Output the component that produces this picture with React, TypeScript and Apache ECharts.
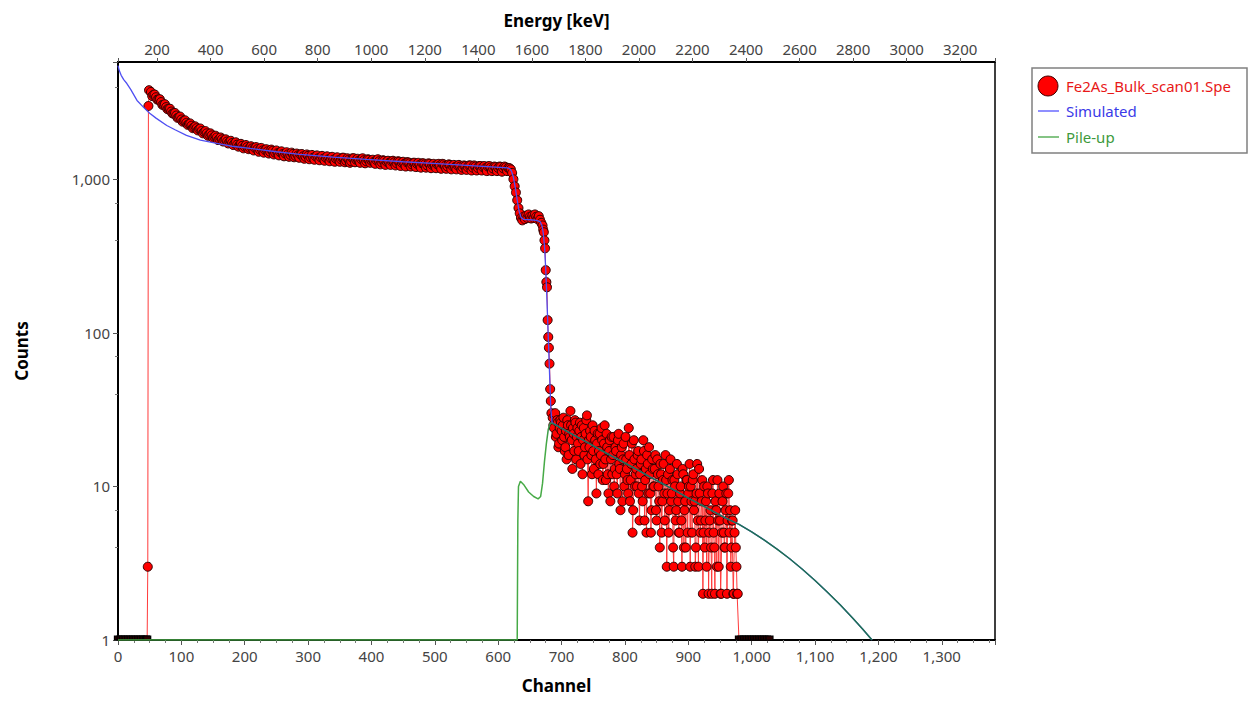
import React, { useEffect, useRef } from "react";
import * as echarts from "echarts";

// ---------- Measured spectrum (Fe2As_Bulk_scan01.Spe) ----------
// zero-count channels at the start of the spectrum
const headZeroChannels = [0, 4, 8, 12, 16, 20, 24, 28, 32, 36, 40, 44, 46];
// the steep rise at the low-energy cutoff
const riseChannels = [47, 48, 49];
const riseCounts = [3, 3000, 3800];
// plateau, channels 52..620 every 4 channels
const bandStart = 52;
const bandStep = 4;
const bandCounts = [
  3700, 3550, 3420, 3300, 3180, 3050, 2950, 2870, 2760, 2680,
  2600, 2530, 2450, 2400, 2330, 2290, 2230, 2180, 2150, 2120,
  2060, 2030, 1990, 1950, 1930, 1890, 1870, 1830, 1820, 1790,
  1760, 1750, 1720, 1710, 1680, 1670, 1650, 1630, 1620, 1600,
  1590, 1600, 1570, 1560, 1540, 1550, 1520, 1510, 1530, 1490,
  1480, 1500, 1460, 1470, 1450, 1440, 1460, 1420, 1430, 1450,
  1410, 1400, 1420, 1390, 1380, 1410, 1370, 1390, 1360, 1380,
  1350, 1370, 1340, 1360, 1330, 1350, 1380, 1320, 1340, 1310,
  1370, 1340, 1320, 1350, 1330, 1310, 1340, 1320, 1300, 1330,
  1310, 1290, 1320, 1300, 1280, 1310, 1290, 1270, 1300, 1280,
  1260, 1290, 1270, 1250, 1280, 1260, 1240, 1270, 1250, 1230,
  1260, 1240, 1220, 1250, 1230, 1260, 1220, 1210, 1240, 1220,
  1200, 1230, 1210, 1190, 1220, 1200, 1230, 1190, 1210, 1185,
  1220, 1200, 1180, 1210, 1190, 1175, 1200, 1185, 1205, 1180,
  1195, 1185, 1160,
];
// plateau, the in-between channels 54..618 every 4 channels
const bandStartB = 54;
const bandCountsB = [
  3480, 3560, 3300, 3320, 3050, 3080, 2860, 2880, 2680, 2700,
  2510, 2560, 2370, 2420, 2260, 2310, 2150, 2210, 2080, 2140,
  1990, 2060, 1920, 1990, 1860, 1920, 1800, 1870, 1760, 1820,
  1710, 1780, 1670, 1740, 1630, 1700, 1590, 1670, 1570, 1640,
  1540, 1620, 1510, 1600, 1490, 1570, 1470, 1560, 1450, 1540,
  1430, 1520, 1410, 1500, 1400, 1490, 1390, 1470, 1380, 1460,
  1360, 1450, 1350, 1440, 1340, 1430, 1330, 1420, 1320, 1410,
  1310, 1400, 1300, 1390, 1300, 1380, 1290, 1370, 1280, 1370,
  1290, 1360, 1280, 1370, 1270, 1350, 1280, 1340, 1260, 1350,
  1250, 1330, 1240, 1320, 1240, 1320, 1230, 1310, 1220, 1300,
  1210, 1290, 1210, 1280, 1200, 1280, 1190, 1270, 1190, 1270,
  1180, 1260, 1180, 1260, 1170, 1250, 1170, 1250, 1160, 1240,
  1160, 1240, 1150, 1230, 1150, 1230, 1140, 1230, 1140, 1220,
  1140, 1220, 1130, 1220, 1130, 1210, 1130, 1210, 1120, 1210,
  1130, 1180,
];
// edges (Fe / As steps)
const dropChannels = [
  622, 624, 626, 628, 630, 632, 634, 636, 638, 640, 642, 644, 646, 648, 650,
  652, 654, 656, 658, 660, 662, 664, 666, 668, 670, 671, 672, 673, 674, 675,
  676, 677, 678, 679, 680, 681, 682, 683, 684,
];
const dropCounts = [
  1100, 1000, 900, 820, 730, 650, 600, 560, 540, 570, 550, 580, 560, 590, 570,
  555, 580, 560, 590, 570, 550, 575, 545, 520, 500, 470, 452, 400, 355, 256,
  214, 198, 121, 94, 80, 63, 43, 36, 30,
];
// noisy tail, even channels 686..978
const tailStart = 686;
const tailCounts = [
  28, 24, 30, 22, 26, 19, 27, 23, 25, 21,
  18, 15, 25, 22, 31, 20, 24, 17, 26, 21,
  19, 23, 14, 25, 20, 16, 22, 29, 8, 18,
  21, 12, 17, 23, 15, 19, 12, 22, 16, 20,
  14, 25, 11, 18, 9, 20, 15, 12, 21, 13,
  17, 9, 22, 13, 16, 8, 19, 12, 15, 11,
  24, 8, 14, 5, 20, 10, 13, 16, 9, 12,
  15, 8, 17, 11, 5, 14, 18, 9, 7, 13,
  10, 16, 6, 12, 8, 14, 5, 11, 9, 16,
  3, 12, 7, 15, 9, 4, 11, 6, 14, 8,
  5, 10, 3, 12, 7, 4, 11, 9, 14, 10,
  5, 12, 8, 4, 14, 3, 9, 6, 11, 5,
  4, 8, 10, 2, 6, 4, 9, 5, 2, 7,
  11, 3, 6, 2, 8, 5, 4, 9, 6, 11,
  7, 4, 6, 2, 7, 3, 2,
];
// noisy tail, odd channels 687..977
const tailStartOdd = 687;
const tailCountsOdd = [
  25, 29, 21, 27, 18, 24, 26, 20, 28, 17,
  23, 27, 16, 21, 25, 13, 22, 27, 15, 24,
  17, 26, 21, 12, 24, 18, 27, 15, 20, 23,
  16, 25, 13, 20, 9, 22, 17, 14, 24, 11,
  19, 15, 22, 12, 17, 8, 21, 16, 10, 18,
  12, 20, 14, 7, 18, 15, 10, 21, 13, 9,
  16, 11, 19, 7, 15, 12, 10, 17, 6, 14,
  10, 20, 6, 13, 16, 9, 12, 5, 15, 10,
  13, 7, 15, 10, 4, 12, 8, 14, 6, 11,
  9, 5, 13, 8, 11, 3, 10, 7, 12, 5,
  9, 6, 13, 4, 8, 11, 5, 10, 3, 8,
  11, 7, 3, 9, 6, 13, 5, 8, 2, 10,
  6, 3, 9, 5, 7, 2, 11, 4, 8, 3,
  6, 9, 2, 5, 10, 4, 7, 2, 9, 5,
  3, 6, 2, 5, 4, 2,
];
// zero-count channels after the spectrum end
const endZeroChannels = [980, 984, 988, 992, 996, 1000, 1004, 1008, 1012, 1016, 1020, 1024, 1028];

// ---------- Simulated spectrum ----------
const simChannels = [
  0, 2, 5, 9, 14, 20, 30, 40, 50, 60, 77, 90, 108, 130, 156, 180, 208, 250,
  287, 340, 392, 450, 497, 550, 602, 615, 618, 621, 624, 627, 630, 633, 636,
  640, 650, 660, 666, 669, 671, 673, 675, 677, 679, 681, 683, 685,
];
const simCounts = [
  5500, 5100, 4750, 4450, 4200, 3850, 3260, 2950, 2690, 2500, 2240, 2100,
  1930, 1800, 1710, 1640, 1589, 1510, 1452, 1395, 1346, 1300, 1267, 1230,
  1195, 1185, 1170, 1130, 1030, 880, 730, 620, 565, 548, 545, 540, 530, 500,
  450, 370, 260, 160, 95, 55, 32, 26,
];

// ---------- Pile-up ----------
const pileChannels = [
  0, 630, 631, 632, 635, 640, 648, 656, 663, 667, 670, 673, 676, 679, 682, 685,
];
const pileCounts = [
  1, 1, 6, 10, 10.8, 10.3, 9.2, 8.6, 8.3, 8.6, 10.5, 14.5, 19, 23.5, 25.8, 25.8,
];

// model tail shared by simulated and pile-up (they coincide above channel 685)
const modelTailChannels = [
  700, 720, 740, 760, 780, 800, 820, 840, 860, 880, 900, 920, 940, 960, 980,
  1000, 1020, 1040, 1060, 1080, 1100, 1120, 1140, 1160, 1175, 1190,
];
const modelTailCounts = [
  23.9, 21.5, 19.4, 17.4, 15.7, 14.2, 12.8, 11.5, 10.4, 9.35, 8.4, 7.6, 6.85,
  6.2, 5.66, 5.06, 4.47, 3.91, 3.38, 2.89, 2.44, 2.04, 1.69, 1.38, 1.18, 1.0,
];

// ---------- Axes ----------
const channelMin = 0;
const channelMax = 1384;
const energyMin = 54;
const energyMax = 3330;
const countsMin = 1;
const countsMax = 5800;

const FONT = "Noto Sans";

function zeroPoint(ch: number) {
  return {
    value: [ch, 1],
    symbol: "rect",
    symbolSize: [7, 4],
    symbolOffset: [0, -2],
    itemStyle: { color: "#2a0000", borderColor: "#000" },
  };
}

function buildExperiment() {
  const out: any[] = [];
  headZeroChannels.forEach((c) => out.push(zeroPoint(c)));
  riseChannels.forEach((c, i) => out.push([c, riseCounts[i]]));
  bandCounts.forEach((v, i) => {
    out.push([bandStart + i * 4, v]);
    if (i < bandCountsB.length) out.push([bandStartB + i * 4, bandCountsB[i]]);
  });
  dropChannels.forEach((c, i) => out.push([c, dropCounts[i]]));
  tailCounts.forEach((v, i) => {
    out.push([tailStart + i * 2, v]);
    if (i < tailCountsOdd.length) out.push([tailStartOdd + i * 2, tailCountsOdd[i]]);
  });
  endZeroChannels.forEach((c) => out.push(zeroPoint(c)));
  return out;
}

function pairs(xs: number[], ys: number[]) {
  return xs.map((x, i) => [x, ys[i]]);
}

export default function App() {
  const ref = useRef<HTMLDivElement>(null);

  useEffect(() => {
    if (!ref.current) return;
    const chart = echarts.init(ref.current, undefined, { renderer: "svg" });

    const simData = pairs(simChannels, simCounts).concat(pairs(modelTailChannels, modelTailCounts));
    const pileData = pairs(pileChannels, pileCounts).concat(pairs(modelTailChannels, modelTailCounts));

    const isPow10 = (v: number) => {
      const l = Math.log10(v);
      return Math.abs(l - Math.round(l)) < 1e-6;
    };

    const pileColor = new echarts.graphic.LinearGradient(
      546, 0, 554, 0,
      [
        { offset: 0, color: "#46aa46" },
        { offset: 1, color: "#1f7250" },
      ],
      true
    );

    chart.setOption({
      animation: false,
      backgroundColor: "#fff",
      textStyle: { fontFamily: FONT },
      grid: {
        left: 118,
        right: 254,
        top: 62,
        bottom: 62,
        show: true,
        borderColor: "#000",
        borderWidth: 1.5,
        backgroundColor: "#fff",
      },
      xAxis: [
        {
          type: "value",
          position: "bottom",
          min: channelMin,
          max: channelMax,
          interval: 100,
          axisLine: { show: true, onZero: false, lineStyle: { color: "#000", width: 2 } },
          axisTick: { show: true, length: 5, lineStyle: { color: "#555" } },
          minorTick: { show: true, splitNumber: 4, length: 3, lineStyle: { color: "#777" } },
          splitLine: { show: false },
          axisLabel: {
            fontSize: 15,
            color: "#444",
            fontFamily: FONT,
            margin: 8,
            formatter: (v: number) => (v % 100 === 0 ? v.toLocaleString("en-US") : ""),
          },
          name: "Channel",
          nameLocation: "middle",
          nameGap: 37,
          nameTextStyle: { fontSize: 17, fontWeight: "bold", color: "#000", fontFamily: FONT },
        },
        {
          type: "value",
          position: "top",
          min: energyMin,
          max: energyMax,
          splitNumber: 16,
          minInterval: 200,
          maxInterval: 200,
          axisLine: { show: true, onZero: false, lineStyle: { color: "#000", width: 2 } },
          axisTick: { show: true, length: 4, lineStyle: { color: "#555" } },
          splitLine: { show: false },
          axisLabel: {
            fontSize: 15,
            color: "#444",
            fontFamily: FONT,
            margin: 6,
            formatter: (v: number) => (v % 200 === 0 ? String(v) : ""),
          },
          name: "Energy [keV]",
          nameLocation: "middle",
          nameGap: 33,
          nameTextStyle: { fontSize: 17, fontWeight: "bold", color: "#000", fontFamily: FONT },
        },
      ],
      yAxis: {
        type: "log",
        logBase: 10,
        min: countsMin,
        max: countsMax,
        axisLine: { show: true, onZero: false, lineStyle: { color: "#000", width: 2 } },
        axisTick: { show: true, length: 5, lineStyle: { color: "#555" } },
        minorTick: { show: true, splitNumber: 3, length: 3, lineStyle: { color: "#777" } },
        splitLine: { show: false },
        axisLabel: {
          fontSize: 15,
          color: "#444",
          fontFamily: FONT,
          margin: 8,
          formatter: (v: number) => (isPow10(v) ? Math.round(v).toLocaleString("en-US") : ""),
        },
        name: "Counts",
        nameLocation: "middle",
        nameRotate: 90,
        nameGap: 88,
        nameTextStyle: { fontSize: 17, fontWeight: "bold", color: "#000", fontFamily: FONT },
      },
      series: [
        {
          name: "Fe2As_Bulk_scan01.Spe",
          type: "line",
          xAxisIndex: 0,
          data: buildExperiment(),
          symbol: "circle",
          symbolSize: 9,
          itemStyle: { color: "#ff0000", borderColor: "#300000", borderWidth: 1 },
          lineStyle: { color: "#ff3b3b", width: 1 },
          z: 2,
        },
        {
          name: "Simulated",
          type: "line",
          xAxisIndex: 0,
          data: simData,
          showSymbol: false,
          symbol: "none",
          lineStyle: { color: "#4f4ff2", width: 1.3 },
          z: 3,
        },
        {
          name: "Pile-up",
          type: "line",
          xAxisIndex: 0,
          data: pileData,
          showSymbol: false,
          symbol: "none",
          lineStyle: { color: pileColor, width: 1.5 },
          z: 4,
        },
      ],
      graphic: [
        {
          type: "rect",
          shape: { x: 1032, y: 68, width: 215, height: 85 },
          style: { fill: "#fff", stroke: "#808080", lineWidth: 1.5 },
        },
        {
          type: "circle",
          shape: { cx: 1048, cy: 86, r: 10 },
          style: { fill: "#ff0000", stroke: "#400000", lineWidth: 1 },
        },
        {
          type: "text",
          x: 1066,
          y: 86,
          style: { text: "Fe2As_Bulk_scan01.Spe", fill: "#e81818", fontSize: 15, fontFamily: FONT, verticalAlign: "middle" },
        },
        {
          type: "line",
          shape: { x1: 1038, y1: 111, x2: 1059, y2: 111 },
          style: { stroke: "#6a6aff", lineWidth: 1.5 },
        },
        {
          type: "text",
          x: 1066,
          y: 111,
          style: { text: "Simulated", fill: "#3a3ae8", fontSize: 15, fontFamily: FONT, verticalAlign: "middle" },
        },
        {
          type: "line",
          shape: { x1: 1038, y1: 137, x2: 1059, y2: 137 },
          style: { stroke: "#5cb05c", lineWidth: 1.5 },
        },
        {
          type: "text",
          x: 1066,
          y: 137,
          style: { text: "Pile-up", fill: "#3d9a3d", fontSize: 15, fontFamily: FONT, verticalAlign: "middle" },
        },
      ],
    });

    return () => chart.dispose();
  }, []);

  return (
    <div
      ref={ref}
      style={{ position: "absolute", left: 0, top: 0, width: 1249, height: 702, background: "#fff" }}
    />
  );
}
